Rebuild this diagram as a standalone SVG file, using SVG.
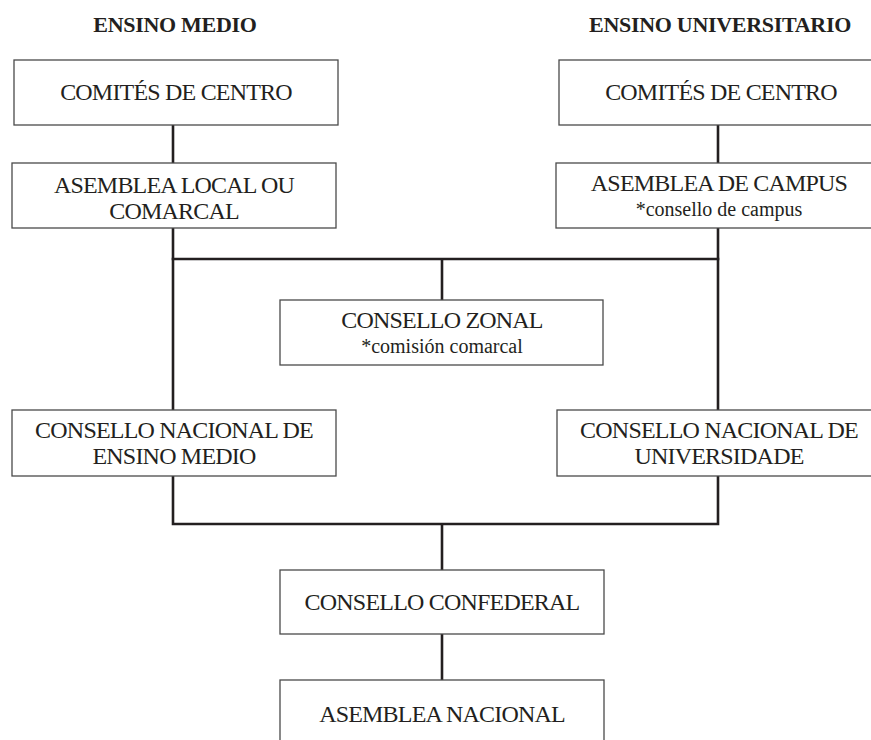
<svg xmlns="http://www.w3.org/2000/svg" width="871" height="740" viewBox="0 0 871 740">
<style>
.box{fill:#fff;stroke:#4a4a4a;stroke-width:1.3}
.t{font-family:"Liberation Serif","Times New Roman",serif;font-size:24px;letter-spacing:-0.8px;fill:#231f20;text-anchor:middle}
.s{font-family:"Liberation Serif","Times New Roman",serif;font-size:20px;fill:#231f20;text-anchor:middle}
.h{font-family:"Liberation Serif","Times New Roman",serif;font-size:22px;font-weight:bold;letter-spacing:-0.3px;fill:#231f20;text-anchor:middle}
.c{fill:none;stroke:#231f20;stroke-width:2.6}
</style>
<rect width="871" height="740" fill="#fff"/>
<g id="connectors">
<line class="c" x1="173" y1="125" x2="173" y2="163"/>
<line class="c" x1="718" y1="125" x2="718" y2="163"/>
<line class="c" x1="173" y1="228" x2="173" y2="410"/>
<line class="c" x1="718" y1="228" x2="718" y2="410"/>
<line class="c" x1="171.7" y1="259" x2="719.3" y2="259"/>
<line class="c" x1="442" y1="259" x2="442" y2="300"/>
<path class="c" d="M173 476 V524 H718 V476"/>
<line class="c" x1="442" y1="524" x2="442" y2="570"/>
<line class="c" x1="442" y1="634" x2="442" y2="680"/>
</g>
<g id="title-medio"><text class="h" x="175" y="32">ENSINO MEDIO</text></g>
<g id="title-universitario"><text class="h" x="720" y="32">ENSINO UNIVERSITARIO</text></g>
<g id="comites-medio">
<rect class="box" x="14" y="60" width="324" height="65"/>
<text class="t" x="176" y="100">COMITÉS DE CENTRO</text>
</g>
<g id="comites-univ">
<rect class="box" x="559" y="60" width="324" height="65"/>
<text class="t" x="721" y="100">COMITÉS DE CENTRO</text>
</g>
<g id="asemblea-local">
<rect class="box" x="12" y="163" width="324" height="65"/>
<text class="t" x="174" y="193">ASEMBLEA LOCAL OU</text>
<text class="t" x="174" y="219">COMARCAL</text>
</g>
<g id="asemblea-campus">
<rect class="box" x="556" y="163" width="324" height="65"/>
<text class="t" x="719" y="191">ASEMBLEA DE CAMPUS</text>
<text class="s" x="719" y="216">*consello de campus</text>
</g>
<g id="consello-zonal">
<rect class="box" x="280" y="300" width="323" height="65"/>
<text class="t" x="442" y="328">CONSELLO ZONAL</text>
<text class="s" x="442" y="353">*comisión comarcal</text>
</g>
<g id="consello-medio">
<rect class="box" x="12" y="410" width="324" height="66"/>
<text class="t" x="174" y="438">CONSELLO NACIONAL DE</text>
<text class="t" x="174" y="464">ENSINO MEDIO</text>
</g>
<g id="consello-univ">
<rect class="box" x="557" y="410" width="324" height="66"/>
<text class="t" x="719" y="438">CONSELLO NACIONAL DE</text>
<text class="t" x="719" y="464">UNIVERSIDADE</text>
</g>
<g id="consello-confederal">
<rect class="box" x="280" y="570" width="324" height="64"/>
<text class="t" x="442" y="610">CONSELLO CONFEDERAL</text>
</g>
<g id="asemblea-nacional">
<rect class="box" x="280" y="680" width="324" height="80"/>
<text class="t" x="442" y="722">ASEMBLEA NACIONAL</text>
</g>
</svg>
